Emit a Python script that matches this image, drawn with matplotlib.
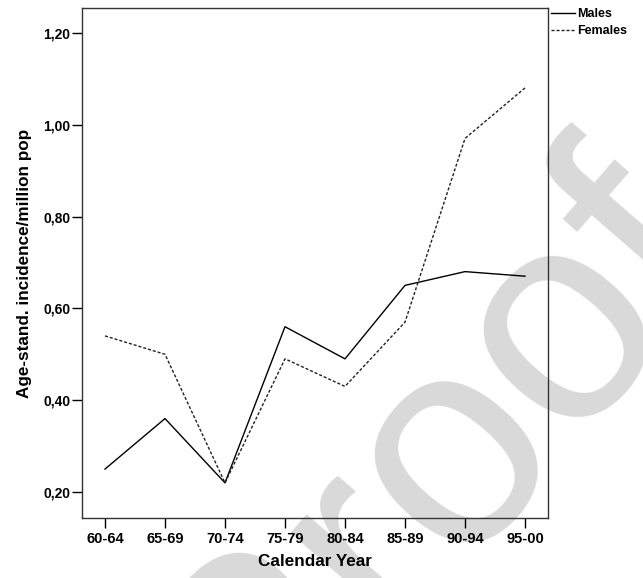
import matplotlib
matplotlib.use("Agg")
import matplotlib.pyplot as plt
from matplotlib.lines import Line2D

categories = ["60-64", "65-69", "70-74", "75-79", "80-84", "85-89", "90-94", "95-00"]
males = [0.25, 0.36, 0.22, 0.56, 0.49, 0.65, 0.68, 0.67]
females = [0.54, 0.50, 0.22, 0.49, 0.43, 0.57, 0.97, 1.08]
yticks = [0.20, 0.40, 0.60, 0.80, 1.00, 1.20]
ytick_labels = ["0,20", "0,40", "0,60", "0,80", "1,00", "1,20"]

plt.rcParams['font.family'] = ['Liberation Sans', 'DejaVu Sans']

W, H = 643, 578
fig = plt.figure(figsize=(W / 100, H / 100), dpi=100)
ax = fig.add_axes([82 / W, 1 - 518 / H, (548 - 82) / W, (518 - 8) / H])
ax.set_facecolor('none')

# watermark behind everything
fig.text(492 / W, 1 - 514 / H, "Proof", fontsize=215, color='#d9d9d9',
         rotation=49, rotation_mode='anchor', ha='center', va='baseline',
         zorder=-5)

x = list(range(len(categories)))
ax.plot(x, males, color='black', lw=1.0, label='Males')
ax.plot(x, females, color='#222222', lw=1.0, linestyle=(0, (2.2, 1.4)), label='Females')

ax.set_xlim(-0.383, 7.383)
ax.set_ylim(0.1435, 1.254)
ax.set_xticks(x)
ax.set_xticklabels(categories, fontsize=10.5, fontweight='bold')
ax.set_yticks(yticks)
ax.set_yticklabels(ytick_labels, fontsize=10, fontweight='bold')
ax.tick_params(axis='both', direction='out', length=7, width=1.0, color='black')
ax.tick_params(axis='y', pad=1.5)
ax.tick_params(axis='x', pad=3)
for s in ax.spines.values():
    s.set_color('#333333')
    s.set_linewidth(1.0)

ax.set_xlabel("Calendar Year", fontsize=12.3, fontweight='bold', labelpad=6)
ax.set_ylabel("Age-stand. incidence/million pop", fontsize=12.3, fontweight='bold', labelpad=8)

handles = [Line2D([], [], color='black', lw=1.0),
           Line2D([], [], color='#222222', lw=1.0, linestyle=(0, (2.2, 1.4)))]
fig.legend(handles, ['Males', 'Females'], loc='upper left',
           bbox_to_anchor=(551 / W, 1 - 8 / H), bbox_transform=fig.transFigure,
           frameon=False, borderpad=0, borderaxespad=0, handlelength=1.9,
           handletextpad=0.2, labelspacing=0.4,
           prop={'weight': 'bold', 'size': 9})

fig.savefig("out.png", dpi=100)
